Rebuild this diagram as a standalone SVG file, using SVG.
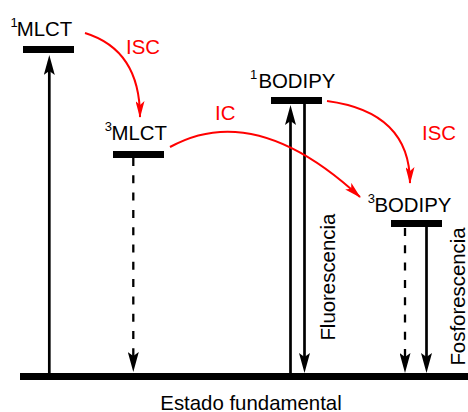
<svg xmlns="http://www.w3.org/2000/svg" width="468" height="412" viewBox="0 0 468 412">
<style>
text{font-family:"Liberation Sans",Arial,sans-serif;font-size:20.4px;fill:#000}
.sup{font-size:13px}
.red{fill:#ff0000}
.bar{fill:#000}
.solid{stroke:#000;stroke-width:2.7;fill:none;marker-end:url(#bh)}
.dash{stroke:#000;stroke-width:2.3;fill:none;stroke-dasharray:8 9.3;marker-end:url(#bh)}
.rc{stroke:#ff0000;stroke-width:2;fill:none;marker-end:url(#rh)}
</style>
<defs>
<marker id="bh" markerUnits="userSpaceOnUse" viewBox="0 0 20 11" markerWidth="20" markerHeight="11" refX="14" refY="5.5" orient="auto">
<path d="M0,0 L20,5.5 L0,11 L4,5.5 Z" fill="#000"/>
</marker>
<marker id="rh" markerUnits="userSpaceOnUse" viewBox="0 0 17 9" markerWidth="17" markerHeight="9" refX="16" refY="4.5" orient="auto">
<path d="M0,0 L17,4.5 L0,9 L4,4.5 Z" fill="#ff0000"/>
</marker>
</defs>
<g id="ground">
<rect class="bar" x="20" y="373" width="448" height="7"/>
<text x="251" y="410" text-anchor="middle">Estado fundamental</text>
</g>
<g id="mlct1">
<rect class="bar" x="23" y="46" width="51" height="7"/>
<text y="36"><tspan class="sup" x="10.5" dy="-9">1</tspan><tspan x="16.8" dy="9">MLCT</tspan></text>
</g>
<g id="mlct3">
<rect class="bar" x="113" y="151" width="51" height="7"/>
<text y="140"><tspan class="sup" x="104.8" dy="-9">3</tspan><tspan x="111.5" dy="9">MLCT</tspan></text>
</g>
<g id="bodipy1">
<rect class="bar" x="271" y="97" width="51" height="7"/>
<text y="88"><tspan class="sup" x="250" dy="-9">1</tspan><tspan x="258.4" dy="9">BODIPY</tspan></text>
</g>
<g id="bodipy3">
<rect class="bar" x="391" y="220" width="51" height="7"/>
<text y="212"><tspan class="sup" x="367.8" dy="-9">3</tspan><tspan x="374.4" dy="9">BODIPY</tspan></text>
</g>
<g id="connectors">
<path class="solid" d="M49.3,373 V61"/>
<path class="dash" d="M133.3,158 V366"/>
<path class="solid" d="M290.5,373 V111"/>
<path class="solid" d="M304.5,104 V367"/>
<path class="dash" d="M405,228 V367"/>
<path class="solid" d="M426.5,227 V367"/>
<path class="rc" d="M85,33 Q140,50 140,117"/>
<path class="rc" d="M170,147 Q255,100 360,197"/>
<path class="rc" d="M327,101 Q410,112 410,183"/>
<text class="red" x="126" y="54">ISC</text>
<text class="red" x="215" y="120">IC</text>
<text class="red" x="422" y="140">ISC</text>
<text transform="translate(335,340.6) rotate(-90)">Fluorescencia</text>
<text transform="translate(465,365.6) rotate(-90)">Fosforescencia</text>
</g>
</svg>
